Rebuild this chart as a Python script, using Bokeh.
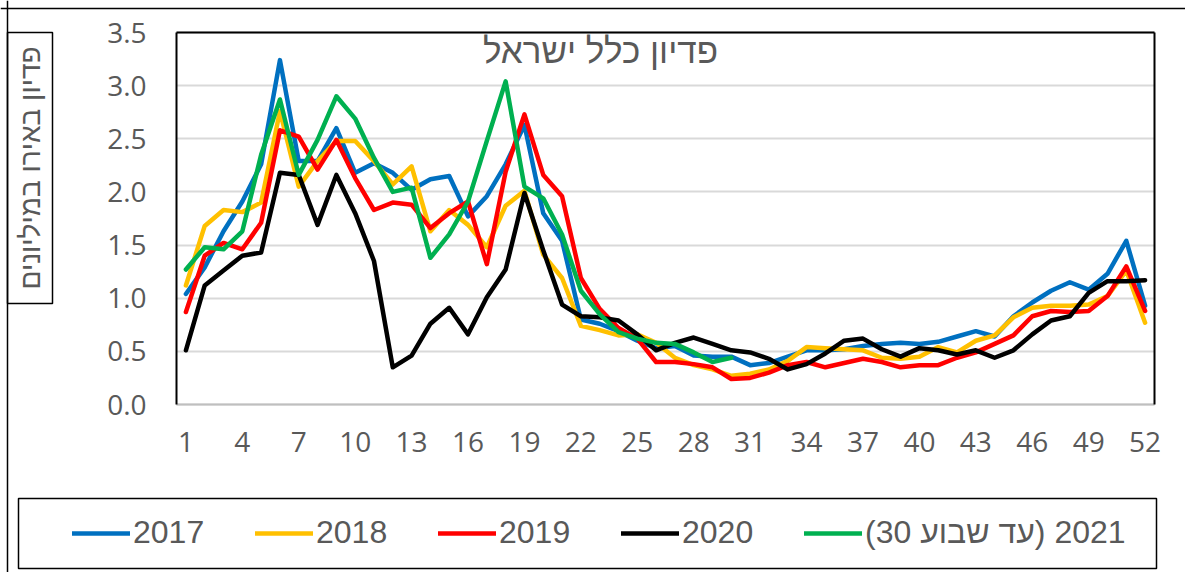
from bokeh.plotting import figure
from bokeh.models import (ColumnDataSource, FixedTicker, LinearAxis, Legend,
                          LegendItem, Label, NumeralTickFormatter, Range1d,
                          BoxAnnotation, Span)
from bokeh.embed import file_html
from bokeh.resources import INLINE

# ---------------- data ----------------
weeks = list(range(1, 53))
weeks_2021 = list(range(1, 31))

y2017 = [1.04, 1.29, 1.63, 1.91, 2.26, 3.24, 2.29, 2.29, 2.60, 2.18, 2.27, 2.18, 2.02,
         2.12, 2.15, 1.77, 1.96, 2.26, 2.63, 1.80, 1.54, 0.80, 0.76, 0.69, 0.60, 0.53,
         0.55, 0.46, 0.45, 0.45, 0.37, 0.39, 0.45, 0.51, 0.51, 0.52, 0.55, 0.57, 0.58,
         0.57, 0.59, 0.64, 0.69, 0.64, 0.83, 0.96, 1.07, 1.15, 1.08, 1.23, 1.54, 0.93]
y2018 = [1.12, 1.68, 1.83, 1.81, 1.90, 2.76, 2.05, 2.29, 2.48, 2.48, 2.29, 2.07, 2.24,
         1.63, 1.83, 1.69, 1.48, 1.87, 2.01, 1.41, 1.19, 0.74, 0.70, 0.65, 0.66, 0.58,
         0.44, 0.37, 0.33, 0.27, 0.29, 0.33, 0.41, 0.54, 0.53, 0.52, 0.51, 0.44, 0.43,
         0.45, 0.54, 0.49, 0.60, 0.65, 0.82, 0.91, 0.93, 0.93, 0.94, 1.02, 1.26, 0.77]
y2019 = [0.87, 1.40, 1.52, 1.46, 1.71, 2.58, 2.52, 2.21, 2.49, 2.13, 1.83, 1.90, 1.88,
         1.66, 1.80, 1.91, 1.32, 2.19, 2.73, 2.16, 1.96, 1.19, 0.90, 0.72, 0.62, 0.40,
         0.40, 0.38, 0.35, 0.24, 0.25, 0.30, 0.37, 0.40, 0.35, 0.39, 0.43, 0.40, 0.35,
         0.37, 0.37, 0.44, 0.49, 0.57, 0.65, 0.83, 0.88, 0.87, 0.88, 1.02, 1.30, 0.88]
y2020 = [0.51, 1.12, 1.26, 1.40, 1.43, 2.18, 2.16, 1.69, 2.16, 1.80, 1.35, 0.35, 0.46,
         0.76, 0.91, 0.66, 1.01, 1.27, 1.99, 1.45, 0.94, 0.83, 0.82, 0.79, 0.66, 0.51,
         0.58, 0.63, 0.57, 0.51, 0.49, 0.43, 0.33, 0.38, 0.48, 0.60, 0.62, 0.52, 0.45,
         0.53, 0.51, 0.47, 0.51, 0.44, 0.51, 0.66, 0.79, 0.83, 1.05, 1.16, 1.16, 1.17]
y2021 = [1.27, 1.48, 1.46, 1.63, 2.35, 2.87, 2.16, 2.49, 2.90, 2.69, 2.32, 2.00, 2.04,
         1.38, 1.60, 1.91, 2.48, 3.04, 2.05, 1.94, 1.60, 1.07, 0.85, 0.68, 0.62, 0.58,
         0.57, 0.49, 0.40, 0.44]

series_names = ["2017", "2018", "2019", "2020", "\u202b2021 (עד שבוע 30)\u202c"]
series_colors = ["#0070C0", "#FFC000", "#FF0000", "#000000", "#00B050"]
y_ticks = [0.0, 0.5, 1.0, 1.5, 2.0, 2.5, 3.0, 3.5]
x_ticks = list(range(1, 53, 3))
chart_title = "פדיון כלל ישראל"
y_title = "פדיון באירו במיליונים"

TXT = "#595959"
FONT = "Open Sans"
HEB = "Liberation Sans"

# ---------------- geometry (canvas pixels) ----------------
W, H = 1185, 572
FL, FR, FT, FB = 176, 1154, 32, 404          # plot area
X0, X1, Y0, Y1 = 0.5, 52.5, 0.0, 3.5          # plot-area data extents
SX = (FR - FL) / (X1 - X0)
SY = (FB - FT) / (Y1 - Y0)


def px2x(px):
    return X0 + (px - FL) / SX


def py2y(py):
    return Y1 - (py - FT) / SY


p = figure(width=W, height=H, title=None,
           x_range=Range1d(px2x(0), px2x(W)), y_range=Range1d(py2y(H), py2y(0)),
           output_backend="svg", toolbar_location=None, min_border=0)
p.outline_line_color = None
p.background_fill_color = "white"
p.border_fill_color = "white"

p.xgrid.visible = False
p.ygrid.ticker = FixedTicker(ticks=y_ticks)
p.ygrid.grid_line_color = "#d9d9d9"
p.ygrid.grid_line_width = 2
p.ygrid.cross_bounds = (X0, X1)

p.yaxis.ticker = FixedTicker(ticks=y_ticks)
p.yaxis.formatter = NumeralTickFormatter(format="0.0")
p.yaxis.axis_line_color = "black"
p.yaxis.axis_line_width = 2
p.yaxis.major_label_standoff = 24
p.yaxis.fixed_location = X0
p.yaxis.bounds = (Y0, Y1)

p.xaxis.ticker = FixedTicker(ticks=x_ticks)
p.xaxis.axis_line_color = "#bfbfbf"
p.xaxis.axis_line_width = 2
p.xaxis.major_label_standoff = 21
p.xaxis.fixed_location = Y0
p.xaxis.bounds = (X0, X1)

for ax in (p.xaxis, p.yaxis):
    ax.major_tick_line_color = None
    ax.minor_tick_line_color = None
    ax.major_label_text_font = FONT
    ax.major_label_text_font_size = "28px"
    ax.major_label_text_color = TXT

p.add_layout(LinearAxis(ticker=FixedTicker(ticks=[]), axis_line_color="black", axis_line_width=2,
                        major_tick_line_color=None, minor_tick_line_color=None,
                        fixed_location=Y1, bounds=(X0, X1)), "above")
p.add_layout(LinearAxis(ticker=FixedTicker(ticks=[]), axis_line_color="black", axis_line_width=2,
                        major_tick_line_color=None, minor_tick_line_color=None,
                        fixed_location=X1, bounds=(Y0, Y1)), "right")

sources = [
    ColumnDataSource(dict(x=weeks, y=y2017)),
    ColumnDataSource(dict(x=weeks, y=y2018)),
    ColumnDataSource(dict(x=weeks, y=y2019)),
    ColumnDataSource(dict(x=weeks, y=y2020)),
    ColumnDataSource(dict(x=weeks_2021, y=y2021)),
]
renderers = []
for src, col in zip(sources, series_colors):
    r = p.line("x", "y", source=src, line_color=col, line_width=4.5,
               line_join="round", line_cap="round")
    renderers.append(r)

# chart title inside the plot area
p.add_layout(Label(x=px2x(600), y=py2y(50), text=chart_title,
                   text_align="center", text_baseline="middle",
                   text_font=HEB, text_font_size="35px", text_color=TXT))

# y-axis title in a box
p.add_layout(BoxAnnotation(left=px2x(7), right=px2x(52), top=py2y(32), bottom=py2y(303),
                           fill_alpha=0, line_color="black", line_alpha=1, line_width=1.5))
p.add_layout(Label(x=px2x(30), y=py2y(167.5), text=y_title, angle=90, angle_units="deg",
                   text_align="center", text_baseline="middle",
                   text_font=HEB, text_font_size="28px", text_color=TXT))

# outer chart border (left and top edges)
p.add_layout(Span(location=px2x(7), dimension="height", line_color="black", line_width=1.5))
p.add_layout(Span(location=py2y(8), dimension="width", line_color="black", line_width=1.5))

# legend box and legend
p.add_layout(BoxAnnotation(left=px2x(18), right=px2x(1156), top=py2y(498), bottom=py2y(568),
                           fill_alpha=0, line_color="black", line_alpha=1, line_width=1.5))
items = [LegendItem(label=n, renderers=[r]) for n, r in zip(series_names, renderers)]
legend = Legend(items=items, orientation="horizontal", location=(72, H - 551),
                border_line_color=None, background_fill_alpha=0,
                padding=0, margin=0, spacing=12,
                glyph_width=58, glyph_height=36, label_height=36,
                label_width=110, label_standoff=3,
                label_text_font=HEB, label_text_font_size="32px", label_text_color=TXT)
p.add_layout(legend)

open("out.html", "w").write(file_html(p, INLINE))
